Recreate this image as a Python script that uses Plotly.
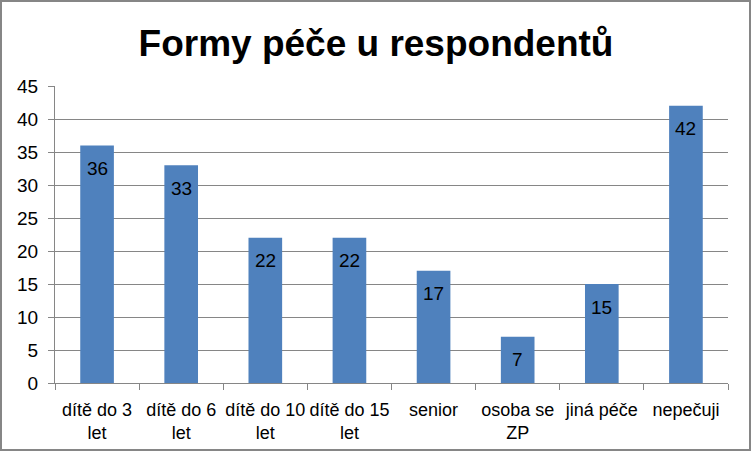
import plotly.graph_objects as go

categories = ["dítě do 3<br>let", "dítě do 6<br>let", "dítě do 10<br>let", "dítě do 15<br>let",
              "senior", "osoba se<br>ZP", "jiná péče", "nepečuji"]
values = [36, 33, 22, 22, 17, 7, 15, 42]
title_text = "Formy péče u respondentů"

W, H = 752, 452
ml, mr, mt, mb = 55, 24, 86, 69
pw, ph = W - ml - mr, H - mt - mb
FONT = "Liberation Sans, Arial"

def px_to_paper_x(px):
    return (px - ml) / pw

def px_to_paper_y(py):
    return (H - mb - py) / ph

fig = go.Figure(go.Bar(
    x=categories, y=values,
    marker=dict(color="#4F81BD", line=dict(width=0)),
    cliponaxis=False,
))

for c, v in zip(categories, values):
    fig.add_annotation(x=c, y=v, text=str(v), showarrow=False, yanchor="middle",
                       yshift=-23, font=dict(family=FONT, size=19, color="black"))

fig.update_layout(
    width=W, height=H,
    margin=dict(l=ml, r=mr, t=mt, b=mb, autoexpand=False),
    paper_bgcolor="white", plot_bgcolor="white",
    bargap=0.6,
    showlegend=False,
    title=dict(text="<b>" + title_text + "</b>", x=0.5, xanchor="center",
               y=1 - 43 / H, yanchor="middle",
               font=dict(family=FONT, size=37, color="black")),
    font=dict(family=FONT, size=18, color="black"),
)
fig.update_yaxes(range=[0, 45], dtick=5, showgrid=True, gridcolor="#868686", gridwidth=1,
                 showline=True, linecolor="#868686", linewidth=1,
                 ticks="outside", ticklen=6, tickcolor="#868686",
                 tickfont=dict(size=19), ticklabelstandoff=6, automargin=False,
                 zeroline=False, fixedrange=True)
fig.update_xaxes(showline=True, linecolor="#868686", linewidth=1,
                 ticks="outside", ticklen=6, tickcolor="#868686", tickson="boundaries",
                 tickfont=dict(size=18), ticklabelstandoff=10, tickangle=0,
                 automargin=False, fixedrange=True)

fig.add_shape(type="rect", xref="paper", yref="paper",
              x0=px_to_paper_x(1), x1=px_to_paper_x(750),
              y0=px_to_paper_y(450), y1=px_to_paper_y(1),
              line=dict(color="#868686", width=2), fillcolor="rgba(0,0,0,0)", layer="above")

fig.write_html("out.html")
